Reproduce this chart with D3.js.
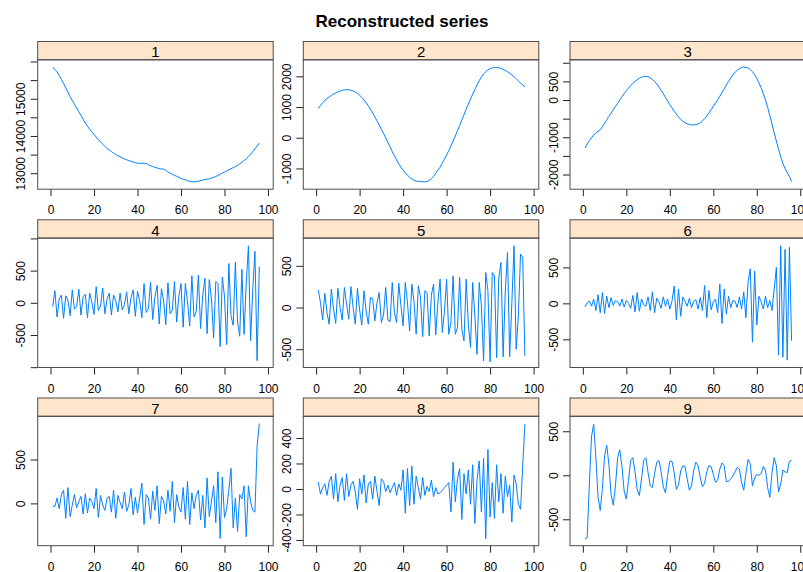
<!DOCTYPE html>
<html>
<head>
<meta charset="utf-8">
<script src="https://cdn.jsdelivr.net/npm/d3@7"></script>
<style>
  body { margin: 0; background: #fff; }
  #graphic { width: 803px; height: 572px; }
  text { font-family: "Liberation Sans", Arial, sans-serif; fill: #000; }
  .frame { fill: none; stroke: #4d4d4d; stroke-width: 1; }
  .strip { fill: #ffe5cc; stroke: #4d4d4d; stroke-width: 1; }
  .axis line { stroke: #222; }
  .axis path { display: none; }
  .axis text { font-size: 12px; }
  .series { fill: none; stroke: #0080ff; stroke-width: 1; }
</style>
</head>
<body>
<div id="graphic"></div>
<script>
// panel names (strip labels)
const panelNames = ["1", "2", "3", "4", "5", "6", "7", "8", "9"];

// reconstructed components, 96 points each
const s1 = [15840,15790,15720,15620,15520,15410,15290,15180,15060,14950,14850,14750,14650,14550,14450,14350,
  14260,14180,14110,14040,13970,13900,13840,13780,13720,13660,13620,13580,13540,13500,13470,13440,
  13410,13380,13360,13340,13320,13300,13280,13270,13265,13265,13268,13260,13230,13200,13180,13160,
  13140,13120,13115,13110,13080,13030,13000,12970,12940,12920,12890,12860,12840,12820,12800,12780,
  12770,12770,12775,12785,12800,12815,12830,12840,12850,12870,12890,12910,12940,12970,13000,13030,
  13060,13090,13120,13150,13175,13210,13250,13290,13340,13390,13450,13510,13580,13650,13730,13810];
const s2 = [950,1050,1140,1220,1280,1330,1380,1420,1455,1490,1520,1545,1560,1565,1560,1550,
  1525,1490,1445,1385,1315,1230,1140,1040,930,810,680,550,420,280,140,0,
  -150,-300,-450,-590,-720,-850,-960,-1050,-1140,-1220,-1290,-1340,-1380,-1410,-1425,-1430,
  -1430,-1435,-1430,-1390,-1330,-1260,-1160,-1060,-960,-830,-700,-560,-420,-260,-110,60,
  230,400,580,750,930,1100,1260,1420,1570,1720,1860,1980,2080,2150,2210,2250,
  2275,2290,2290,2280,2260,2230,2190,2150,2100,2050,1990,1920,1850,1780,1720,1660];
const s3 = [-1290,-1180,-1090,-1010,-940,-880,-840,-800,-720,-620,-530,-440,-350,-260,-170,-90,
  0,90,170,250,320,390,450,500,545,585,615,630,635,625,595,550,
  495,430,350,260,170,70,-30,-120,-210,-300,-380,-450,-520,-570,-610,-640,
  -660,-665,-665,-660,-640,-610,-560,-500,-430,-350,-260,-170,-80,10,100,200,
  300,400,500,590,670,740,800,845,875,885,880,860,820,760,680,580,
  460,330,170,0,-200,-420,-650,-880,-1100,-1320,-1520,-1700,-1840,-1950,-2050,-2190];
const s4 = [-60,190,-220,60,120,-240,110,40,-200,200,-100,-60,210,-190,100,130,
  -230,150,10,-180,250,-120,-50,230,-170,60,150,-190,120,30,-140,150,
  -110,-30,170,-170,80,200,-210,180,30,-230,300,-150,-90,320,-260,90,
  270,-330,220,40,-340,310,-170,-120,330,-300,100,300,-380,300,20,-360,
  420,-220,-140,430,-400,120,380,-480,360,60,-540,330,300,-680,400,100,
  -650,610,-200,-350,630,-300,-520,520,-490,300,885,-590,200,800,-900,560];
const s5 = [210,60,-150,170,-60,-200,220,-20,-190,230,0,-150,240,40,-140,250,
  0,-200,230,-30,-210,200,-40,-200,120,110,-160,60,180,-180,-90,240,
  -150,-170,300,-60,-180,290,20,-220,300,60,-280,280,80,-320,260,120,
  -350,200,180,-340,150,280,-330,60,340,-300,-50,340,-320,-180,380,-320,
  -240,360,-260,-400,340,-200,-480,300,-100,-560,300,20,-640,420,200,-650,
  420,380,-600,350,540,-590,200,660,-590,50,740,-500,-100,640,600,-580];
const s6 = [-50,10,30,-40,60,-100,120,-130,150,-140,100,-60,80,-30,40,20,
  -40,60,-50,40,0,-70,110,-120,150,-110,60,-20,-40,90,-100,160,
  -130,70,20,-70,90,-40,60,-80,30,240,-230,200,-180,90,30,-40,
  70,-60,30,50,-80,80,-100,250,-200,180,-90,20,60,-130,270,-280,
  200,-150,100,-60,40,30,-60,90,-80,160,-200,300,480,-540,450,-300,
  100,20,-80,100,-60,40,-100,200,500,-720,800,-750,750,-790,780,-520];
const s7 = [-30,-35,60,-60,100,150,-170,180,-150,-20,100,-50,20,80,-120,110,
  -110,60,20,-60,170,-160,90,-20,-80,60,80,-100,150,-170,90,10,
  -60,130,-90,-20,170,-130,70,-110,60,230,-240,100,60,-180,140,-80,
  200,-230,80,30,-120,150,-90,250,-220,100,-40,-100,180,-180,250,-240,
  120,-60,90,150,-190,90,-280,290,-150,20,200,-220,360,-400,300,-160,
  -60,150,400,-280,60,-320,100,50,200,-380,200,20,-80,-100,650,910];
const s8 = [55,-40,10,40,-50,60,100,-80,120,-100,30,90,-90,120,-60,30,
  60,-20,-160,80,-40,110,-110,40,60,-80,100,-20,-130,80,60,-20,
  30,-30,10,50,-50,40,-10,150,-190,160,-130,180,-120,100,10,-80,
  90,-50,20,-20,70,-60,10,-40,-30,-10,10,30,50,-180,210,-100,
  80,160,-240,120,-40,150,-120,190,-270,70,220,-180,240,-390,310,-220,
  50,-230,190,-100,120,-190,100,-60,30,-260,110,40,-120,-160,180,510];
const s9 = [-718,-710,-100,440,580,200,-250,-400,-150,220,340,120,-220,-340,-120,200,
  290,100,-180,-270,-60,170,200,40,-160,-230,-40,170,200,30,-120,-140,
  20,150,170,40,-130,-200,0,160,160,30,-160,-110,50,110,100,-40,
  -170,-120,60,150,110,-30,-130,-90,40,110,100,10,-80,-60,70,140,
  110,-70,-70,-40,-10,40,90,70,-80,-170,20,180,130,-120,-30,10,
  0,20,100,60,-140,-250,30,200,110,-190,-100,60,40,30,160,170];
const seriesValues = [s1, s2, s3, s4, s5, s6, s7, s8, s9];

// axis settings
const xTicks = [0, 20, 40, 60, 80, 100];
const xLimits = [-5.9, 102.4];
const yLimits = [[12570, 16046], [-1676, 2539], [-2394, 1080],
                 [-1005, 1005], [-719, 832], [-892, 907],
                 [-482, 992], [-445, 570], [-800, 670]];
const yTicks = [[13000, 13500, 14000, 14500, 15000, 15500, 16000],
                [-1000, 0, 1000, 2000],
                [-2000, -1500, -1000, -500, 0, 500, 1000],
                [-1000, -500, 0, 500, 1000],
                [-500, 0, 500],
                [-500, 0, 500],
                [0, 500],
                [-400, -200, 0, 200, 400],
                [-500, 0, 500]];
const yTickLabels = [[13000, 14000, 15000],
                     [-1000, 0, 1000, 2000],
                     [-2000, -1000, 0, 500],
                     [-500, 0, 500],
                     [-500, 0, 500],
                     [-500, 0, 500],
                     [0, 500],
                     [-400, -200, 0, 200, 400],
                     [-500, 0, 500]];
const title = "Reconstructed series";

const latticeChart = {
  el: "#graphic",
  width: 803,
  height: 572,
  colX: [37.7, 303.3, 570],
  rowY: [41.5, 219.8, 398],
  panelW: 235.5,
  stripH: 18.3,
  plotH: 129.4,
  drawPlot(){
    document.querySelector(this.el).innerHTML = "";
    this.svg = d3.select(this.el)
      .append("svg")
      .attr("width", this.width)
      .attr("height", this.height);

    this.svg.append("text")
      .attr("x", 402)
      .attr("y", 27)
      .attr("text-anchor", "middle")
      .style("font-size", "17px")
      .style("font-weight", "bold")
      .text(title);
  },
  drawPanel(i){
    const that = this;
    const col = i % 3, row = Math.floor(i / 3);
    const g = this.svg.append("g")
      .attr("transform", `translate(${this.colX[col]}, ${this.rowY[row]})`);

    // strip
    g.append("rect")
      .attr("class", "strip")
      .attr("x", 0).attr("y", 0)
      .attr("width", this.panelW).attr("height", this.stripH);
    g.append("text")
      .attr("x", this.panelW / 2)
      .attr("y", this.stripH - 2.5)
      .attr("text-anchor", "middle")
      .style("font-size", "15px")
      .text(panelNames[i]);

    const plot = g.append("g")
      .attr("transform", `translate(0, ${this.stripH})`);

    const xScale = d3.scaleLinear().domain(xLimits).range([0, this.panelW]);
    const yScale = d3.scaleLinear().domain(yLimits[i]).range([this.plotH, 0]);

    const labels = yTickLabels[i];
    const yAxis = d3.axisLeft(yScale)
      .tickValues(yTicks[i])
      .tickSize(7)
      .tickFormat(d => labels.includes(d) ? String(d) : "");
    const ya = plot.append("g").attr("class", "axis yaxis").call(yAxis);
    ya.selectAll("text")
      .attr("x", 0)
      .attr("dy", "0.35em")
      .attr("text-anchor", "middle")
      .attr("transform", "translate(-16.7,0) rotate(-90)");

    const xAxis = d3.axisBottom(xScale)
      .tickValues(xTicks)
      .tickSize(7)
      .tickPadding(9.5);
    plot.append("g")
      .attr("class", "axis xaxis")
      .attr("transform", `translate(0, ${this.plotH})`)
      .call(xAxis);

    const line = d3.line()
      .x((d, j) => xScale(j + 1))
      .y(d => yScale(d));
    plot.append("path")
      .datum(seriesValues[i])
      .attr("class", "series")
      .attr("d", line);

    plot.append("rect")
      .attr("class", "frame")
      .attr("x", 0).attr("y", 0)
      .attr("width", this.panelW).attr("height", this.plotH);
  },
  draw(){
    this.drawPlot();
    panelNames.forEach((n, i) => this.drawPanel(i));
  }
};

latticeChart.draw();
</script>
</body>
</html>
